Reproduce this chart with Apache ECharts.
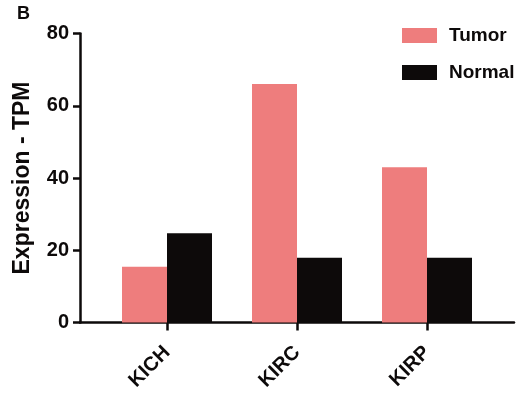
<!DOCTYPE html>
<html>
<head>
<meta charset="utf-8">
<script src="https://cdn.jsdelivr.net/npm/echarts@6/dist/echarts.min.js"></script>
<style>
  html, body { margin: 0; padding: 0; background: #fff; }
  #chart { width: 527px; height: 395px; }
</style>
</head>
<body>
<div id="chart"></div>
<script>
// Kidney cancer subtypes and their expression (TPM)
const categories = ['KICH', 'KIRC', 'KIRP'];
const tumorValues = [15.4, 66.0, 43.0];
const normalValues = [24.7, 17.9, 17.9];
const yTicks = { min: 0, max: 80, interval: 20 };

const FONT = '"Liberation Sans", Arial, Helvetica, sans-serif';
const INK = '#0d0a0a';
const TUMOR = '#ee7d7d';

const chart = echarts.init(document.getElementById('chart'), null, { renderer: 'canvas' });

chart.setOption({
  animation: false,
  backgroundColor: '#ffffff',
  title: {
    text: 'B', left: 12, top: 0,
    textStyle: { fontFamily: FONT, fontWeight: 'bold', fontSize: 18, color: INK }
  },
  legend: {
    orient: 'vertical',
    left: 397, top: 21,
    itemWidth: 35, itemHeight: 15, itemGap: 18,
    icon: 'rect',
    data: ['Tumor', 'Normal'],
    textStyle: {
      fontFamily: FONT, fontWeight: 'bold', fontSize: 19, color: INK,
      padding: [0, 0, 0, 7]
    }
  },
  grid: [
    // frame for the axis lines
    { left: 80, right: 13, top: 33.5, bottom: 72.5 },
    // band area holding the bars
    { left: 102, right: 35, top: 33.5, bottom: 72.5 }
  ],
  xAxis: [
    {
      gridIndex: 0, type: 'value', min: 0, max: 1,
      axisLine: { show: true, lineStyle: { color: INK, width: 2.5 } },
      axisTick: { show: false }, axisLabel: { show: false }, splitLine: { show: false }
    },
    {
      gridIndex: 1, type: 'category', data: categories,
      axisLine: { show: false },
      axisTick: { show: true, alignWithLabel: true, length: 8, lineStyle: { color: INK, width: 2.5 } },
      axisLabel: {
        rotate: 45, margin: 27,
        fontFamily: FONT, fontWeight: 'bold', fontSize: 20, color: INK
      }
    }
  ],
  yAxis: [
    {
      gridIndex: 0, type: 'value',
      min: yTicks.min, max: yTicks.max, interval: yTicks.interval,
      name: 'Expression - TPM', nameLocation: 'middle', nameGap: 46,
      nameTextStyle: { fontFamily: FONT, fontWeight: 'bold', fontSize: 23, color: INK },
      axisLine: { show: true, lineStyle: { color: INK, width: 2.5 } },
      axisTick: { show: true, length: 7, lineStyle: { color: INK, width: 2.5 } },
      axisLabel: { margin: 11, fontFamily: FONT, fontWeight: 'bold', fontSize: 20, color: INK },
      splitLine: { show: false }
    },
    {
      gridIndex: 1, type: 'value',
      min: yTicks.min, max: yTicks.max, interval: yTicks.interval,
      show: false, splitLine: { show: false }
    }
  ],
  series: [
    {
      name: 'Tumor', type: 'bar', xAxisIndex: 1, yAxisIndex: 1,
      data: tumorValues, barWidth: 45, barGap: '0%',
      itemStyle: { color: TUMOR }
    },
    {
      name: 'Normal', type: 'bar', xAxisIndex: 1, yAxisIndex: 1,
      data: normalValues, barWidth: 45, barGap: '0%',
      itemStyle: { color: INK }
    }
  ]
});
</script>
</body>
</html>
